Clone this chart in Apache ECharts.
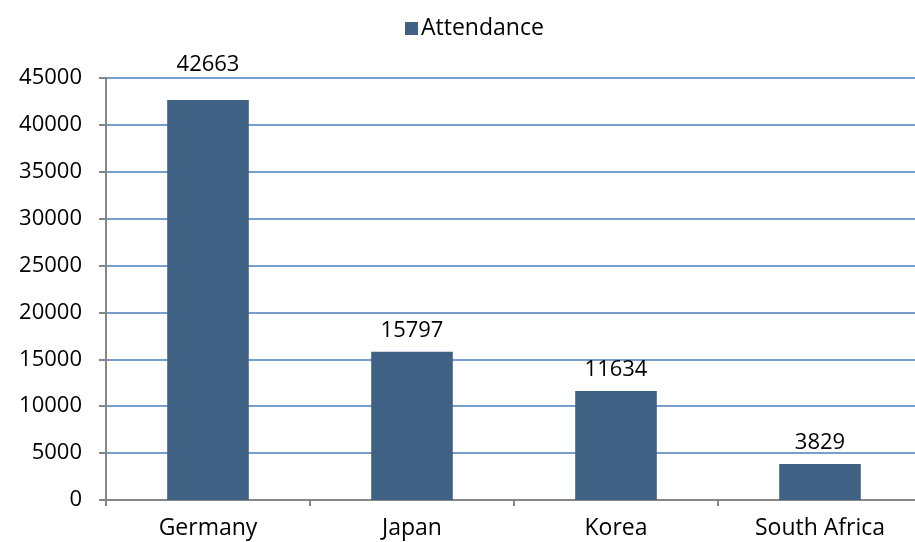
<!DOCTYPE html>
<html><head><meta charset="utf-8">
<script src="https://cdn.jsdelivr.net/npm/echarts@6/dist/echarts.min.js"></script>
<style>html,body{margin:0;padding:0;background:#fff;overflow:hidden}#c{width:922px;height:542px}</style>
</head><body><div id="c"></div>
<script>
const categories = ["Germany", "Japan", "Korea", "South Africa"];
const attendance = [42663, 15797, 11634, 3829];
const seriesName = "Attendance";
const yTicks = [0, 5000, 10000, 15000, 20000, 25000, 30000, 35000, 40000, 45000];

const chart = echarts.init(document.getElementById('c'), null, {renderer: 'canvas'});
const font = '"Open Sans", "Liberation Sans", sans-serif';
chart.setOption({
  animation: false,
  textStyle: {fontFamily: font},
  legend: {
    data: [seriesName], top: 12, left: 400,
    itemWidth: 13, itemHeight: 13, itemGap: 4, icon: 'rect',
    textStyle: {fontSize: 23, color: '#000', fontFamily: font, padding: [0,0,0,-2]}
  },
  grid: {left: 106, right: 0, top: 78, bottom: 42, containLabel: false},
  xAxis: {
    type: 'category', data: categories, boundaryGap: true,
    axisLine: {lineStyle: {color: '#868686', width: 2}},
    axisTick: {show: true, length: 6, inside: false, alignWithLabel: false, lineStyle: {color: '#868686', width: 2}},
    axisLabel: {fontSize: 23, color: '#000', margin: 17, fontFamily: font}
  },
  yAxis: {
    type: 'value', min: yTicks[0], max: yTicks[yTicks.length-1], interval: 5000,
    axisLine: {show: true, lineStyle: {color: '#868686', width: 2}},
    axisTick: {show: true, length: 7, lineStyle: {color: '#868686', width: 2}},
    axisLabel: {fontSize: 22, color: '#000', margin: 24, fontFamily: font, formatter: v => String(v)},
    splitLine: {show: true, lineStyle: {color: '#4a7ebb', width: 1.5}}
  },
  series: [{
    name: seriesName, type: 'bar', barWidth: '40%',
    data: attendance.map((v, i) => i === 0 ? {value: v, label: {distance: 24}} : v),
    itemStyle: {color: '#3f6183'},
    label: {show: true, position: 'top', distance: 10, fontSize: 22, color: '#000', fontFamily: font}
  }]
});
</script></body></html>
